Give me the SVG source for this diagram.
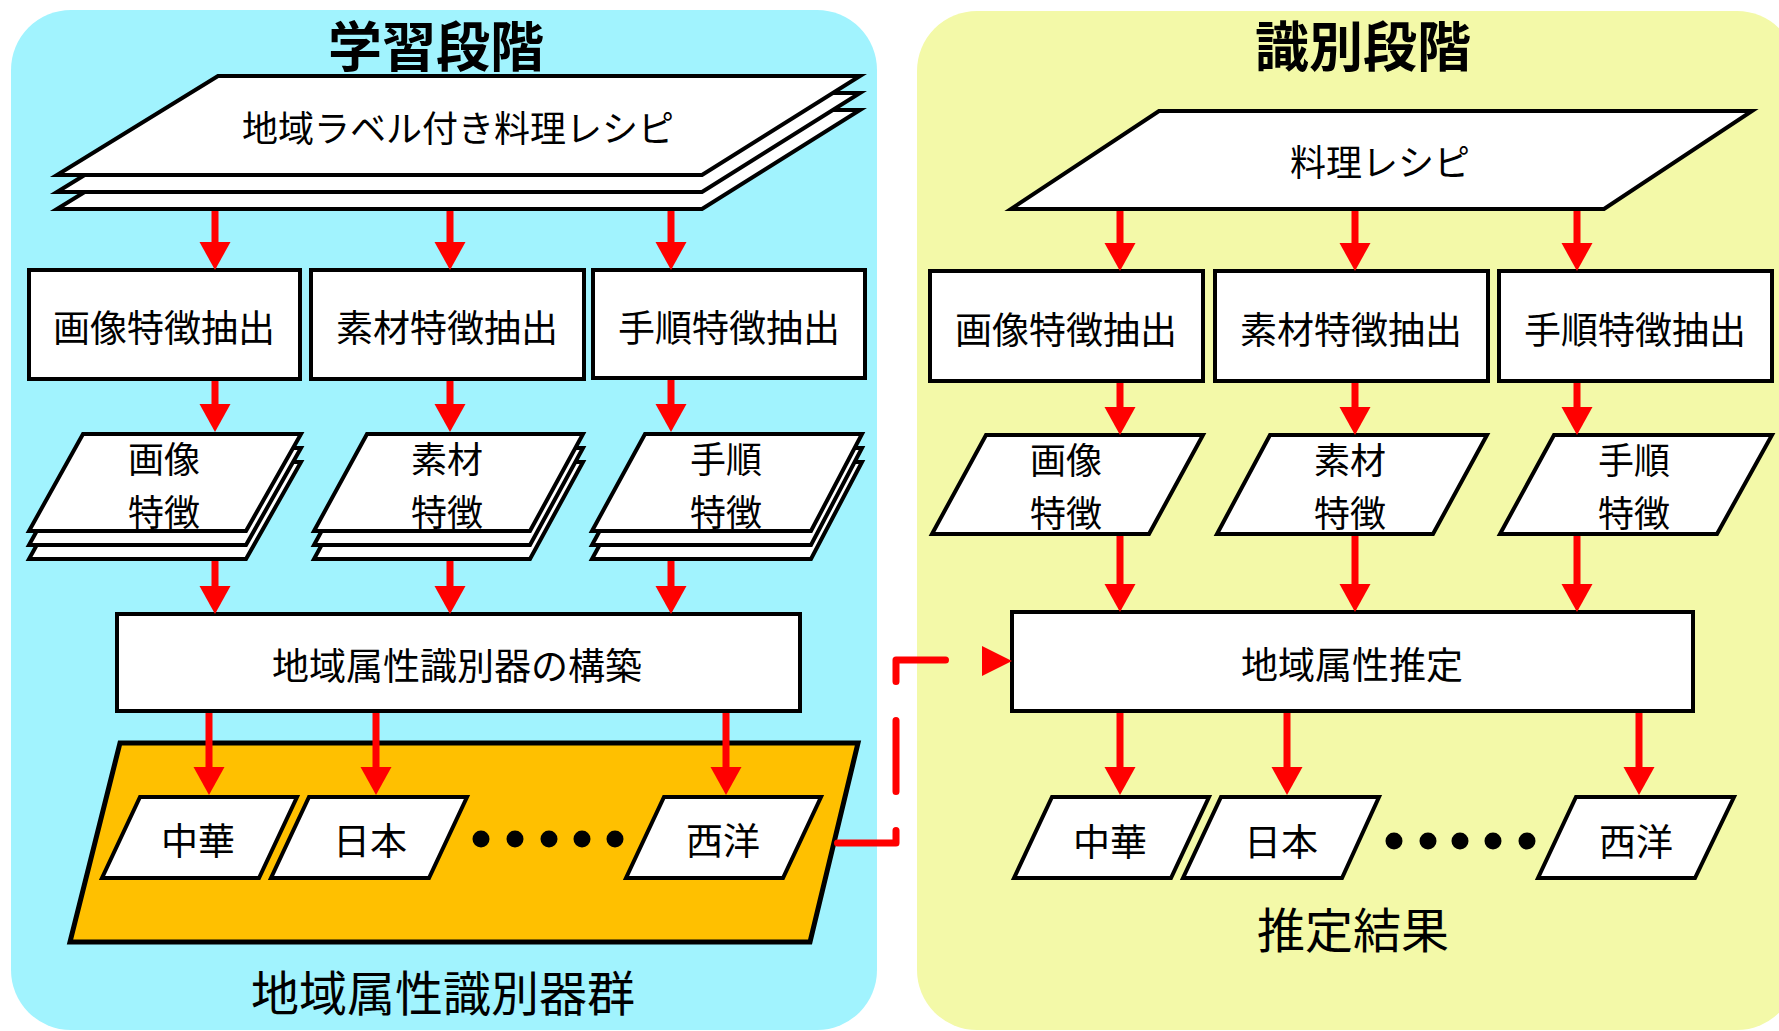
<svg xmlns="http://www.w3.org/2000/svg" width="1779" height="1031" viewBox="0 0 1779 1031">
<style>
text{font-family:"Noto Sans CJK JP","Noto Sans",sans-serif;fill:#000;text-anchor:middle;dominant-baseline:central}
.t{font-size:37px}
.f{font-size:36px}
.ttl{font-size:54px;font-weight:bold}
.lbl{font-size:48px}
.s{fill:#fff;stroke:#000;stroke-width:4;stroke-linejoin:miter}
.a{stroke:#ff0000;stroke-width:7;fill:none;marker-end:url(#ah)}
</style>
<defs>
<marker id="ah" markerUnits="userSpaceOnUse" markerWidth="30" markerHeight="32" refX="18" refY="15.5" orient="auto" overflow="visible">
<path d="M0,0 L28,15.5 L0,31 z" fill="#ff0000"/>
</marker>
</defs>
<g id="panel-learn"><rect x="11" y="10" width="866" height="1020" rx="60" fill="#a1f3fe"/>
<text class="ttl" x="436" y="43">学習段階</text></g>
<g id="panel-recog"><rect x="917" y="11" width="880" height="1019" rx="60" fill="#f3f9a8"/>
<text class="ttl" x="1363" y="43">識別段階</text></g>

<g id="n-labeled-recipes">
<polygon class="s" points="218,110 860,110 702,209 57,209"/>
<polygon class="s" points="218,93 860,93 702,192 57,192"/>
<polygon class="s" points="218,76 860,76 702,175 57,175"/>
<text class="f" x="458" y="126">地域ラベル付き料理レシピ</text></g>

<g id="n-l-img-ext"><rect class="s" x="29" y="270" width="271" height="109"/><text class="t" x="164" y="326">画像特徴抽出</text></g>
<g id="n-l-mat-ext"><rect class="s" x="311" y="270" width="273" height="109"/><text class="t" x="447" y="326">素材特徴抽出</text></g>
<g id="n-l-step-ext"><rect class="s" x="593" y="270" width="272" height="108"/><text class="t" x="729" y="326">手順特徴抽出</text></g>

<g id="n-l-img-feat">
<polygon class="s" points="83,462 301,462 246,559 29,559"/>
<polygon class="s" points="83,448 301,448 246,545 29,545"/>
<polygon class="s" points="83,434 301,434 246,531 29,531"/>
<text class="f"><tspan x="164" y="457">画像</tspan><tspan x="164" y="510">特徴</tspan></text></g>
<g id="n-l-mat-feat">
<polygon class="s" points="367,462 583,462 530,559 314,559"/>
<polygon class="s" points="367,448 583,448 530,545 314,545"/>
<polygon class="s" points="367,434 583,434 530,531 314,531"/>
<text class="f"><tspan x="447" y="457">素材</tspan><tspan x="447" y="510">特徴</tspan></text></g>
<g id="n-l-step-feat">
<polygon class="s" points="645,462 862,462 811,559 592,559"/>
<polygon class="s" points="645,448 862,448 811,545 592,545"/>
<polygon class="s" points="645,434 862,434 811,531 592,531"/>
<text class="f"><tspan x="726" y="457">手順</tspan><tspan x="726" y="510">特徴</tspan></text></g>

<g id="n-build"><rect class="s" x="117" y="614" width="683" height="97"/><text class="t" x="457" y="664">地域属性識別器の構築</text></g>

<g id="n-classifiers">
<polygon points="120,743 858,743 810,942 70,942" fill="#ffc000" stroke="#000" stroke-width="5"/>
<polygon class="s" points="140,797 297,797 259,878 102,878"/><text class="t" x="198" y="839">中華</text>
<polygon class="s" points="309,797 467,797 429,878 271,878"/><text class="t" x="370" y="839">日本</text>
<polygon class="s" points="664,797 821,797 783,878 626,878"/><text class="t" x="723" y="839">西洋</text>
<g fill="#000"><circle cx="481" cy="839" r="8.5"/><circle cx="515" cy="839" r="8.5"/><circle cx="549" cy="839" r="8.5"/><circle cx="582" cy="839" r="8.5"/><circle cx="615" cy="839" r="8.5"/></g>
<text class="lbl" x="443" y="990">地域属性識別器群</text></g>

<g id="n-recipe"><polygon class="s" points="1159,111 1752,111 1604,209 1011,209"/><text class="f" x="1380" y="160">料理レシピ</text></g>

<g id="n-r-img-ext"><rect class="s" x="930" y="271" width="273" height="110"/><text class="t" x="1066" y="328">画像特徴抽出</text></g>
<g id="n-r-mat-ext"><rect class="s" x="1215" y="271" width="273" height="110"/><text class="t" x="1351" y="328">素材特徴抽出</text></g>
<g id="n-r-step-ext"><rect class="s" x="1499" y="271" width="273" height="110"/><text class="t" x="1635" y="328">手順特徴抽出</text></g>

<g id="n-r-img-feat"><polygon class="s" points="986,435 1203,435 1149,534 932,534"/><text class="f"><tspan x="1066" y="458">画像</tspan><tspan x="1066" y="511">特徴</tspan></text></g>
<g id="n-r-mat-feat"><polygon class="s" points="1270,435 1487,435 1433,534 1217,534"/><text class="f"><tspan x="1350" y="458">素材</tspan><tspan x="1350" y="511">特徴</tspan></text></g>
<g id="n-r-step-feat"><polygon class="s" points="1554,435 1772,435 1717,534 1500,534"/><text class="f"><tspan x="1634" y="458">手順</tspan><tspan x="1634" y="511">特徴</tspan></text></g>

<g id="n-estimate"><rect class="s" x="1012" y="612" width="681" height="99"/><text class="t" x="1352" y="663">地域属性推定</text></g>

<g id="n-results">
<polygon class="s" points="1052,797 1209,797 1171,878 1014,878"/><text class="t" x="1110" y="840">中華</text>
<polygon class="s" points="1221,797 1379,797 1342,878 1183,878"/><text class="t" x="1281" y="840">日本</text>
<polygon class="s" points="1576,797 1734,797 1695,878 1538,878"/><text class="t" x="1636" y="840">西洋</text>
<g fill="#000"><circle cx="1394" cy="841" r="8.5"/><circle cx="1428" cy="841" r="8.5"/><circle cx="1460" cy="841" r="8.5"/><circle cx="1493" cy="841" r="8.5"/><circle cx="1527" cy="841" r="8.5"/></g>
<text class="lbl" x="1353" y="927">推定結果</text></g>

<g id="connectors">
<line class="a" x1="215" y1="211" x2="215" y2="260"/>
<line class="a" x1="450" y1="211" x2="450" y2="260"/>
<line class="a" x1="671" y1="211" x2="671" y2="260"/>
<line class="a" x1="215" y1="381" x2="215" y2="422"/>
<line class="a" x1="450" y1="381" x2="450" y2="422"/>
<line class="a" x1="671" y1="380" x2="671" y2="422"/>
<line class="a" x1="215" y1="561" x2="215" y2="604"/>
<line class="a" x1="450" y1="561" x2="450" y2="604"/>
<line class="a" x1="671" y1="561" x2="671" y2="604"/>
<line class="a" x1="209" y1="713" x2="209" y2="785"/>
<line class="a" x1="376" y1="713" x2="376" y2="785"/>
<line class="a" x1="726" y1="713" x2="726" y2="785"/>
<line class="a" x1="1120" y1="211" x2="1120" y2="261"/>
<line class="a" x1="1355" y1="211" x2="1355" y2="261"/>
<line class="a" x1="1577" y1="211" x2="1577" y2="261"/>
<line class="a" x1="1120" y1="383" x2="1120" y2="425"/>
<line class="a" x1="1355" y1="383" x2="1355" y2="425"/>
<line class="a" x1="1577" y1="383" x2="1577" y2="425"/>
<line class="a" x1="1120" y1="536" x2="1120" y2="602"/>
<line class="a" x1="1355" y1="536" x2="1355" y2="602"/>
<line class="a" x1="1577" y1="536" x2="1577" y2="602"/>
<line class="a" x1="1120" y1="713" x2="1120" y2="785"/>
<line class="a" x1="1287" y1="713" x2="1287" y2="785"/>
<line class="a" x1="1639" y1="713" x2="1639" y2="785"/>
<path d="M834,843 H896 V660 H980" fill="none" stroke="#ff0000" stroke-width="7" stroke-linecap="round" stroke-linejoin="round" stroke-dasharray="71 39" stroke-dashoffset="-3.5"/>
<polygon points="982,646 1012,661 982,676" fill="#ff0000"/>
</g>
</svg>
